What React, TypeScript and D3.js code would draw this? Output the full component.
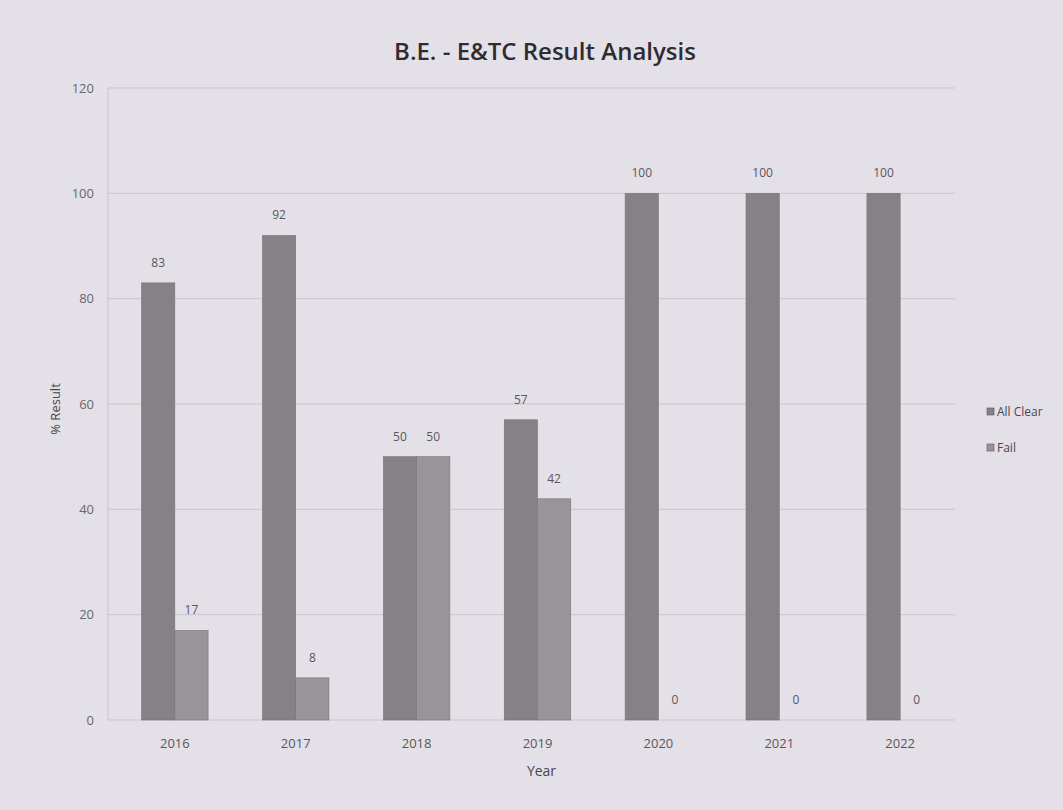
import React from "react";
import * as d3 from "d3";

const years = ["2016", "2017", "2018", "2019", "2020", "2021", "2022"];
const allClear = [83, 92, 50, 57, 100, 100, 100];
const fail = [17, 8, 50, 42, 0, 0, 0];
const seriesNames = ["All Clear", "Fail"];
const yTicks = [0, 20, 40, 60, 80, 100, 120];

const W = 1063;
const H = 810;
const margin = { top: 88, right: 108, bottom: 90, left: 108 };
const colors = ["#858187", "#98949a"];
const font = "'Open Sans', 'Liberation Sans', sans-serif";

export default function App() {
  // bands shifted slightly right of the axis, like the printed chart
  const x0 = d3
    .scaleBand<string>()
    .domain(years)
    .range([margin.left + 7, W - margin.right + 5])
    .paddingInner(0.45)
    .paddingOuter(0.22);
  const x1 = d3.scaleBand<string>().domain(seriesNames).range([0, x0.bandwidth()]);
  const y = d3.scaleLinear().domain([0, 120]).range([H - margin.bottom, margin.top]);
  const series = [allClear, fail];

  return (
    <svg
      width={W}
      height={H}
      style={{ position: "absolute", left: 0, top: 0, background: "#e4e0e7", fontFamily: font }}
    >
      <text x={545} y={60} textAnchor="middle" fontSize={24} fontWeight={600} fill="#2e2c30">
        B.E. - E&amp;TC Result Analysis
      </text>

      {/* grid + y ticks */}
      {yTicks.map((t) => (
        <g key={t}>
          <line
            x1={margin.left}
            x2={W - margin.right}
            y1={y(t)}
            y2={y(t)}
            stroke="#c9c5cc"
            strokeWidth={1}
          />
          <text x={margin.left - 14} y={y(t)} dy="0.35em" textAnchor="end" fontSize={13} fill="#6a666d">
            {t}
          </text>
        </g>
      ))}
      <line x1={margin.left} x2={margin.left} y1={margin.top} y2={y(0)} stroke="#c9c5cc" />

      {/* bars */}
      {years.map((yr, i) => (
        <g key={yr} transform={`translate(${x0(yr)},0)`}>
          {series.map((s, j) => (
            <g key={j}>
              <rect
                x={x1(seriesNames[j])}
                y={y(s[i])}
                width={x1.bandwidth()}
                height={y(0) - y(s[i])}
                fill={colors[j]}
                stroke="#77737a"
                strokeWidth={0.6}
              />
              <text
                x={(x1(seriesNames[j]) ?? 0) + x1.bandwidth() / 2}
                y={y(s[i]) - 16}
                textAnchor="middle"
                fontSize={12}
                fill="#5a565d"
              >
                {s[i]}
              </text>
            </g>
          ))}
          <text
            x={x0.bandwidth() / 2}
            y={y(0) + 28}
            textAnchor="middle"
            fontSize={13}
            fill="#5a565d"
          >
            {yr}
          </text>
        </g>
      ))}

      <text
        transform={`translate(60,${(margin.top + y(0)) / 2 + 5}) rotate(-90)`}
        textAnchor="middle"
        fontSize={13}
        fill="#4a464d"
      >
        % Result
      </text>
      <text x={(margin.left + W - margin.right) / 2 + 10} y={y(0) + 56} textAnchor="middle" fontSize={14} fill="#4a464d">
        Year
      </text>

      {/* legend */}
      {seriesNames.map((n, j) => (
        <g key={n} transform={`translate(987,${412 + j * 36})`}>
          <rect x={0} y={-4} width={7} height={7} fill={colors[j]} stroke="#5a565d" strokeWidth={0.6} />
          <text x={10} y={0} dy="0.35em" fontSize={12} fill="#4a464d">
            {n}
          </text>
        </g>
      ))}
    </svg>
  );
}
